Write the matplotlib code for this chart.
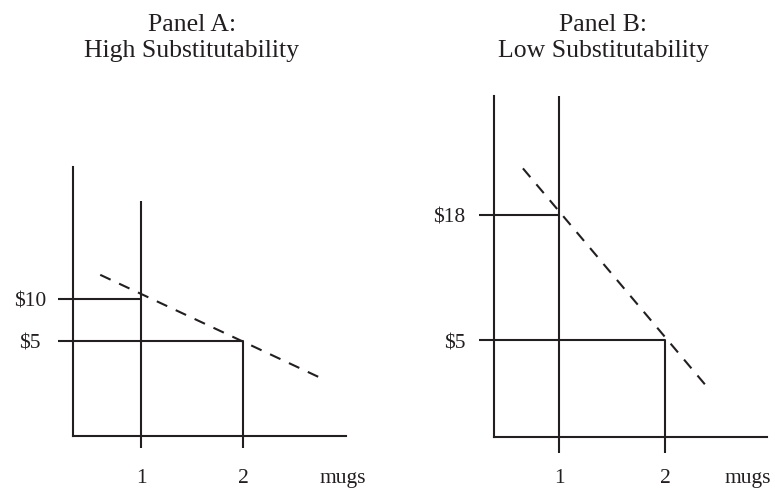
import matplotlib
matplotlib.use("Agg")
import matplotlib.pyplot as plt

# ---- data ----
quantities = [1, 2]
q_labels = ["1", "2"]
prices_a = [10, 5]
prices_a_labels = ["$10", "$5"]
prices_b = [18, 5]
prices_b_labels = ["$18", "$5"]
demand_a_x = [0.6, 2.82]
demand_a_y = [12.9, 0.2]
demand_b_x = [0.66, 2.43]
demand_b_y = [22.8, -0.3]
titles = ["Panel A:\nHigh Substitutability", "Panel B:\nLow Substitutability"]
unit_label = "mugs"

plt.rcParams['font.family'] = ['Liberation Serif', 'DejaVu Serif']
INK = "#231f20"
W, H = 775, 489
fig = plt.figure(figsize=(W / 100, H / 100), dpi=100)

def px_axes(l, r, b, t):
    return fig.add_axes([l / W, 1 - b / H, (r - l) / W, (b - t) / H])

panels = [
    dict(box=(73, 346, 437, 168), xlim=(0.333, 3.01), ylim=(-6.43, 25.83),
         prices=prices_a, plabels=prices_a_labels, dx=demand_a_x, dy=demand_a_y,
         qtop=21.8, xtick_len=12, ytick_len=15, xpad=14.5, ypad=20, yha="center",
         unit_x=2.98, title_x=192),
    dict(box=(494, 767, 438, 97), xlim=(0.387, 2.962), ylim=(-5.06, 30.31),
         prices=prices_b, plabels=prices_b_labels, dx=demand_b_x, dy=demand_b_y,
         qtop=30.31, xtick_len=16, ytick_len=15, xpad=10.5, ypad=10, yha="right",
         unit_x=2.78, title_x=603),
]

FS = 15.5
for i, p in enumerate(panels):
    ax = px_axes(*p["box"])
    ax.set_xlim(*p["xlim"])
    ax.set_ylim(*p["ylim"])
    for s in ["top", "right"]:
        ax.spines[s].set_visible(False)
    for s in ["left", "bottom"]:
        ax.spines[s].set_linewidth(1.5)
        ax.spines[s].set_color(INK)
    ax.patch.set_visible(False)

    ax.set_xticks(quantities)
    ax.set_xticklabels(q_labels)
    ax.set_yticks(p["prices"])
    ax.set_yticklabels(p["plabels"], ha=p["yha"])
    ax.tick_params(axis="x", direction="out", length=p["xtick_len"] * 0.72,
                   width=1.5, color=INK, labelsize=FS, pad=p["xpad"], labelcolor=INK)
    ax.tick_params(axis="y", direction="out", length=p["ytick_len"] * 0.72,
                   width=1.5, color=INK, labelsize=FS, pad=p["ypad"], labelcolor=INK)

    # quantity 1: full vertical line
    ax.plot([quantities[0], quantities[0]], [p["ylim"][0], p["qtop"]],
            color=INK, lw=1.5, solid_capstyle="butt", clip_on=False)
    # price at quantity 1
    ax.plot([p["xlim"][0], quantities[0]], [p["prices"][0], p["prices"][0]],
            color=INK, lw=1.5, solid_capstyle="butt", clip_on=False)
    # price at quantity 2 and vertical drop
    ax.plot([p["xlim"][0], quantities[1], quantities[1]],
            [p["prices"][1], p["prices"][1], p["ylim"][0]],
            color=INK, lw=1.5, solid_capstyle="butt", clip_on=False)
    # demand (dashed)
    ax.plot(p["dx"], p["dy"], color=INK, lw=1.5, ls=(0, (5.5, 4.5)), clip_on=False)

    ax.annotate(unit_label, xy=(p["unit_x"], 0), xycoords=("data", "axes fraction"),
                xytext=(0, -(p["xtick_len"] * 0.72 + p["xpad"])), textcoords="offset points",
                ha="center", va="top", fontsize=FS, color=INK, annotation_clip=False)

    fig.text(p["title_x"] / W, 1 - 14 / H, titles[i], ha="center", va="top",
             fontsize=18.5, color=INK, linespacing=1.25)

fig.savefig("out.png", dpi=100)
